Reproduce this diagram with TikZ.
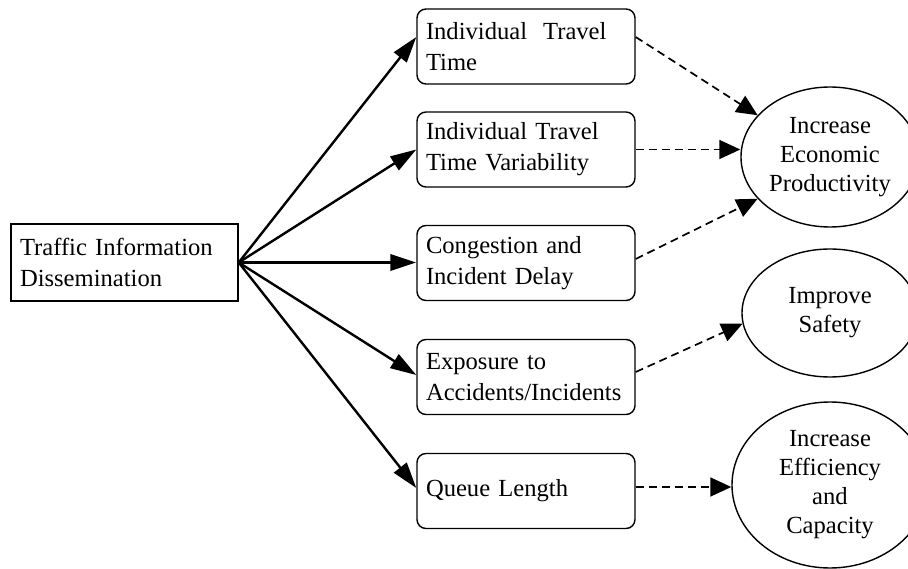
\documentclass[tikz,border=0pt]{standalone}
\usepackage{fontspec}
\setmainfont{Liberation Serif}
\usetikzlibrary{arrows.meta,shapes.geometric,calc}
\begin{document}
\begin{tikzpicture}[x=1pt,y=-1pt,
  srcbox/.style={draw,line width=1.4pt,text width=209pt,inner xsep=9pt,inner ysep=0pt,
    minimum height=77pt,align=left,font=\fontsize{24.6}{31}\selectfont},
  mbox/.style={draw,line width=1.4pt,rounded corners=9pt,text width=200pt,inner xsep=9pt,
    inner ysep=0pt,minimum height=75pt,align=left,font=\fontsize{24.6}{31}\selectfont},
  goal/.style={ellipse,draw,line width=1.4pt,inner sep=0pt,align=center,
    font=\fontsize{24.6}{29}\selectfont},
  solidarrow/.style={line width=2.4pt,-{Triangle[length=26pt,width=16pt]}},
  dasharrow/.style={line width=1.7pt,dash pattern=on 8pt off 5pt,-{Triangle[length=21pt,width=19pt]}}]
\useasboundingbox (0,0) rectangle (908,569);
\clip (0,0) rectangle (908,569);

\node[srcbox] (src) at (124.5,262.5) {Traffic Information\\Dissemination};

\node[mbox] (b1) at (526,46.5) {Individual\hspace{16pt}Travel\\Time};
\node[mbox] (b2) at (526,149.5) {Individual Travel\\Time Variability};
\node[mbox] (b3) at (526,263) {Congestion and\\Incident Delay};
\node[mbox] (b4) at (526,377) {Exposure to\\Accidents/Incidents};
\node[mbox] (b5) at (526,491) {Queue Length};

\node[goal,minimum width=178pt,minimum height=140pt] (e1) at (830,157)
  {Increase\\Economic\\Productivity};
\node[goal,minimum width=176pt,minimum height=128pt] (e2) at (830,313)
  {Improve\\Safety};
\node[goal,minimum width=196pt,minimum height=166pt] (e3) at (830,485)
  {Increase\\Efficiency\\and\\Capacity};

\draw[solidarrow] (src.east) -- ([yshift=9.5pt]b1.west);
\draw[solidarrow] (src.east) -- (b2.west);
\draw[solidarrow,line width=3.4pt] (src.east) -- (src.east -| b3.west);
\draw[solidarrow] (src.east) -- ([yshift=2pt]b4.west);
\draw[solidarrow] (src.east) -- ([yshift=3pt]b5.west);

\draw[dasharrow] ([yshift=9.5pt]b1.east) -- (e1.150);
\draw[dasharrow] (b2.east) -- (b2.east -| e1.west);
\draw[dasharrow] ([yshift=4pt]b3.east) -- (e1.210);
\draw[dasharrow] ([yshift=5pt]b4.east) -- (e2.187);
\draw[dasharrow] ([yshift=4pt]b5.east) -- ([yshift=4pt]b5.east -| e3.west);
\end{tikzpicture}
\end{document}
